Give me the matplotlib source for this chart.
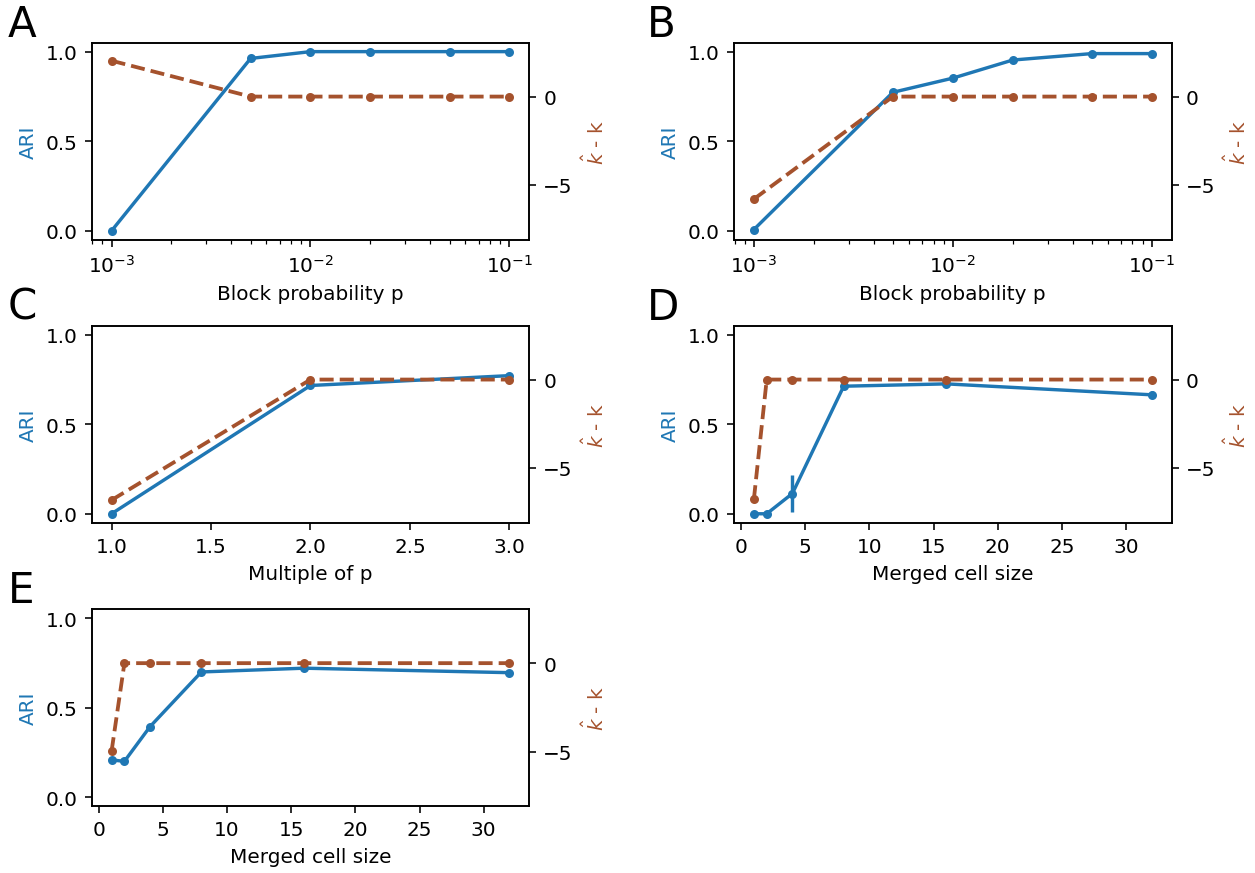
import matplotlib
matplotlib.use("Agg")
from matplotlib import pyplot as plt

BLUE = '#1f77b4'
BROWN = '#a5522d'

# block probability sweep (panels A and B)
p_vals = [1e-3, 5e-3, 1e-2, 2e-2, 5e-2, 1e-1]
ari_a = [0.0, 0.962, 1.0, 1.0, 1.0, 1.0]
ari_a_err = [0, 0, 0, 0, 0, 0]
dk_a = [2.03, 0, 0, 0, 0, 0]
dk_a_err = [0.15, 0, 0, 0, 0, 0]

ari_b = [0.007, 0.773, 0.852, 0.953, 0.989, 0.989]
ari_b_err = [0, 0, 0, 0, 0, 0]
dk_b = [-5.8, 0, 0, 0, 0, 0]
dk_b_err = [0, 0, 0, 0, 0, 0]

# multiple of p (panel C)
mult = [1.0, 2.0, 3.0]
ari_c = [0.0, 0.716, 0.771]
ari_c_err = [0, 0, 0]
dk_c = [-6.82, 0, 0]
dk_c_err = [0, 0, 0]

# merged cell size (panels D and E)
cell_size = [1, 2, 4, 8, 16, 32]
ari_d = [0.0, 0.0, 0.113, 0.712, 0.725, 0.664]
ari_d_err = [0, 0, 0.105, 0, 0, 0.02]
dk_d = [-6.77, 0, 0, 0, 0, 0]
dk_d_err = [0.1, 0, 0, 0, 0, 0]

ari_e = [0.209, 0.201, 0.395, 0.700, 0.721, 0.696]
ari_e_err = [0, 0, 0, 0, 0, 0]
dk_e = [-4.98, 0, 0, 0, 0, 0]
dk_e_err = [0, 0, 0, 0, 0, 0]

panels = [
    ('A', p_vals, ari_a, ari_a_err, dk_a, dk_a_err, 'Block probability p', True),
    ('B', p_vals, ari_b, ari_b_err, dk_b, dk_b_err, 'Block probability p', True),
    ('C', mult, ari_c, ari_c_err, dk_c, dk_c_err, 'Multiple of p', False),
    ('D', cell_size, ari_d, ari_d_err, dk_d, dk_d_err, 'Merged cell size', False),
    ('E', cell_size, ari_e, ari_e_err, dk_e, dk_e_err, 'Merged cell size', False),
]

lefts = [0.0730, 0.5844]
bottoms = [0.7246, 0.4008, 0.0763]
width = 0.3484
height = 0.2255
letter_x = [0.006, 0.515]

fig = plt.figure(figsize=(8.722, 6.069), dpi=144)

for i, (letter, x, ari, ari_err, dk, dk_err, xlabel, logx) in enumerate(panels):
    row, col = divmod(i, 2)
    ax = fig.add_axes([lefts[col], bottoms[row], width, height])
    ax.errorbar(x, ari, yerr=ari_err, color=BLUE, marker='.', linestyle='-',
                linewidth=1.7, markersize=7)
    if logx:
        ax.set_xscale('log')
    ax.set_ylim(-0.05, 1.05)
    ax.set_yticks([0.0, 0.5, 1.0])
    ax.set_ylabel('ARI', color=BLUE)
    ax.set_xlabel(xlabel)

    ax2 = ax.twinx()
    ax2.errorbar(x, dk, yerr=dk_err, color=BROWN, marker='.', linestyle='--',
                 linewidth=1.9, markersize=7)
    ax2.set_ylim(-8.1, 3.05)
    ax2.set_yticks([-5, 0])
    ax2.set_ylabel(r'$\hat{k}$ - k', color=BROWN)

    fig.text(letter_x[col], bottoms[row] + height + 0.008, letter,
             fontsize=21, va='baseline', ha='left')

fig.savefig('out.png', dpi=144)
